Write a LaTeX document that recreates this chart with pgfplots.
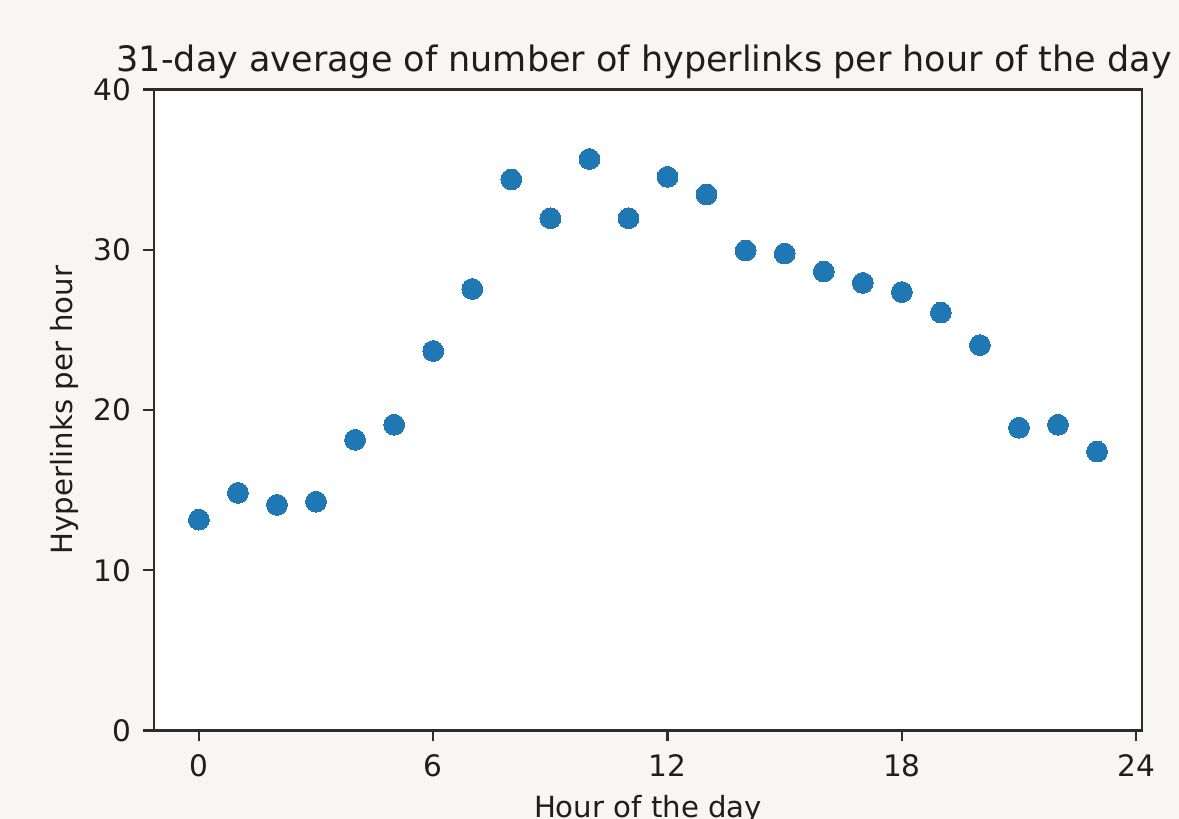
\documentclass[border=0pt]{standalone}
\usepackage{pgfplots}
\pgfplotsset{compat=1.18}
\usepackage{fontspec}
\setmainfont{DejaVu Sans}
\definecolor{bgc}{RGB}{247,246,244}
\definecolor{mplblue}{HTML}{1F77B4}
\definecolor{txt}{RGB}{30,30,30}
\definecolor{spine}{RGB}{45,45,45}
\begin{document}
\begin{tikzpicture}
\useasboundingbox (0,0) rectangle (589.5pt,409.5pt);
\clip (0,0) rectangle (589.5pt,409.5pt);
\fill[bgc] (0,0) rectangle (589.5pt,409.5pt);
\begin{axis}[
  at={(77pt,44.25pt)}, anchor=south west,
  scale only axis, width=494pt, height=320.5pt,
  xmin=-1.15, xmax=24.15, ymin=0, ymax=40,
  xtick={0,6,12,18,24}, ytick={0,10,20,30,40},
  xtick pos=bottom, ytick pos=left,
  tick align=outside, major tick length=5.5pt,
  every tick/.style={spine, line width=1.2pt},
  axis line style={spine, line width=1.25pt},
  axis background/.style={fill=white},
  /pgf/number format/assume math mode=true,
  tick label style={font=\fontsize{14.8}{17}\selectfont, text=txt, inner sep=0pt},
  xticklabel style={anchor=base, yshift=-17.6pt},
  yticklabel style={anchor=east, xshift=-5.65pt},
  every axis title shift=0pt,
  title={31-day average of number of hyperlinks per hour of the day},
  title style={at={(axis description cs:0.4962,1.0278)}, anchor=base, inner sep=0pt, font=\fontsize{17.5}{20}\selectfont, text=txt},
  xlabel={Hour of the day},
  xlabel style={at={(axis description cs:0.5,-0.1357)}, anchor=base, inner sep=0pt, font=\fontsize{14.6}{17}\selectfont, text=txt},
  ylabel={Hyperlinks per hour},
  ylabel style={at={(axis description cs:-0.0823,0.5)}, anchor=base, inner sep=0pt, font=\fontsize{14.6}{17}\selectfont, text=txt},
  clip=false,
]
\addplot[color=mplblue, only marks, mark=*, mark size=5.2pt, mark options={fill=mplblue, draw=mplblue, line width=0pt}] coordinates {
(0,13.16) (1,14.83) (2,14.08) (3,14.28) (4,18.14) (5,19.08) (6,23.68) (7,27.55)
(8,34.39) (9,31.97) (10,35.66) (11,31.97) (12,34.55) (13,33.45) (14,29.95) (15,29.76)
(16,28.64) (17,27.93) (18,27.36) (19,26.08) (20,24.05) (21,18.89) (22,19.08) (23,17.41)
};
\end{axis}
\end{tikzpicture}
\end{document}
